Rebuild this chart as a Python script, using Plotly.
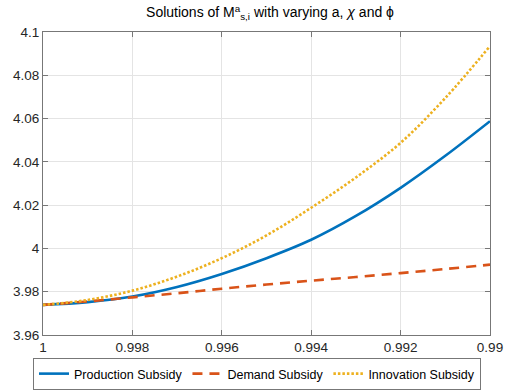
import plotly.graph_objects as go

x_vals = [1.0, 0.999, 0.998, 0.997, 0.996, 0.995, 0.994, 0.993, 0.992, 0.991, 0.99]
production = [3.9739, 3.9752, 3.9778, 3.9822, 3.9882, 3.9955, 4.0040, 4.0150, 4.0280, 4.0428, 4.0588]
demand = [3.9739, 3.9755, 3.9774, 3.9793, 3.9814, 3.9833, 3.9851, 3.9868, 3.9886, 3.9905, 3.9925]
innovation = [3.9739, 3.9762, 3.9805, 3.9870, 3.9955, 4.0060, 4.0188, 4.0328, 4.0488, 4.0695, 4.0935]

x_ticks = [1.0, 0.998, 0.996, 0.994, 0.992, 0.99]
x_ticktext = ["1", "0.998", "0.996", "0.994", "0.992", "0.99"]
y_ticks = [3.96, 3.98, 4.0, 4.02, 4.04, 4.06, 4.08, 4.1]
y_ticktext = ["3.96", "3.98", "4", "4.02", "4.04", "4.06", "4.08", "4.1"]

FONT = "Liberation Sans, Arial, Helvetica, sans-serif"

fig = go.Figure()
fig.add_trace(go.Scatter(x=x_vals, y=production, mode="lines", name="Production Subsidy",
                         line=dict(color="#0072BD", width=2.6, shape="spline")))
fig.add_trace(go.Scatter(x=x_vals, y=demand, mode="lines", name="Demand Subsidy",
                         line=dict(color="#D95319", width=2.6, dash="10px,7px", shape="spline")))
fig.add_trace(go.Scatter(x=x_vals, y=innovation, mode="lines", name="Innovation Subsidy",
                         line=dict(color="#EDB120", width=2.6, dash="2.5px,2px", shape="spline")))

axis_common = dict(
    showline=True, linecolor="#777777", linewidth=1, mirror="ticks",
    ticks="inside", ticklen=5, tickcolor="#777777",
    showgrid=True, gridcolor="#e4e4e4", gridwidth=1,
    zeroline=False, tickfont=dict(family=FONT, size=13.5, color="#262626"),
)

fig.update_layout(
    width=505, height=392,
    margin=dict(l=43, r=15, t=32, b=57, autoexpand=False),
    paper_bgcolor="white", plot_bgcolor="white",
    title=dict(text="Solutions of M<sup>a</sup><sub>s,i</sub> with varying a, <i>χ</i> and ϕ",
               x=270 / 505, xanchor="center", xref="container",
               y=1 - 12.5 / 392, yanchor="middle", yref="container",
               font=dict(family=FONT, size=14, color="black")),
    xaxis=dict(range=[1.0, 0.99], tickvals=x_ticks, ticktext=x_ticktext, **axis_common),
    yaxis=dict(range=[3.96, 4.1], tickvals=y_ticks, ticktext=y_ticktext, **axis_common),
    legend=dict(orientation="h", xref="container", yref="container",
                x=257 / 505, xanchor="center", y=1 - 358 / 392, yanchor="top",
                bordercolor="#777777", borderwidth=1, bgcolor="white",
                font=dict(family=FONT, size=12.5, color="black"),
                tracegroupgap=0),
    showlegend=True,
)

fig.write_html("out.html", config={"displayModeBar": False},
               post_script="document.body.style.margin='0';")
